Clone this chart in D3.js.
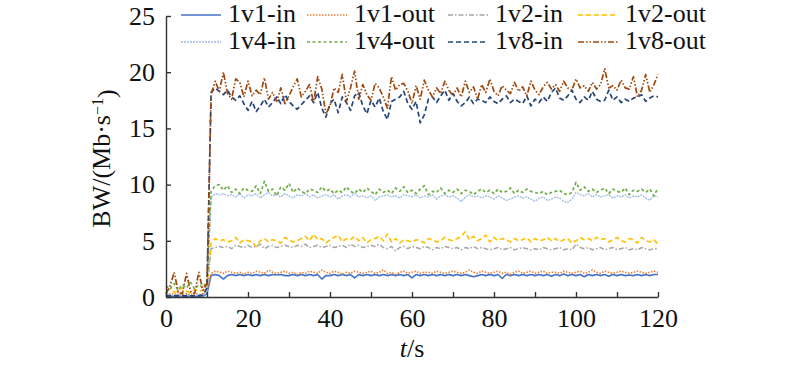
<!DOCTYPE html>
<html>
<head>
<meta charset="utf-8">
<script src="https://cdn.jsdelivr.net/npm/d3@7"></script>
<style>
  body { margin: 0; background: #fff; }
</style>
</head>
<body>
<div id="chart"></div>
<script>
// series names, in legend order
var seriesNames = ["1v1-in", "1v1-out", "1v2-in", "1v2-out", "1v4-in", "1v4-out", "1v8-in", "1v8-out"];

// time in seconds, 0..120
var seconds = d3.range(0, 121);

var bw1v1In = [
  0.05,0.05,0.1,0.05,0.05,0.1,0.05,0.05,0.1,0.05,0.3,
  1.9,2.0,1.9,1.6,1.9,2.0,1.9,2.0,1.9,
  2.0,1.9,2.0,1.9,2.0,1.9,2.0,1.95,2.0,1.9,
  1.9,2.0,1.9,2.0,1.9,2.0,1.9,2.0,1.6,1.9,
  1.9,2.0,1.9,2.0,1.9,2.0,1.7,2.0,1.9,2.0,
  1.9,2.0,1.9,2.0,1.9,2.0,1.9,2.0,1.9,2.0,
  1.7,2.0,1.9,2.0,1.9,2.0,1.9,2.0,1.9,2.0,
  1.9,2.0,1.9,2.0,1.9,1.8,1.9,2.0,1.9,2.0,
  1.9,2.0,1.65,2.0,1.9,2.0,1.9,2.0,1.9,2.0,
  1.9,2.0,1.9,2.0,1.85,2.0,1.9,2.05,1.9,2.0,
  1.9,2.0,1.8,2.0,1.9,2.0,1.9,2.0,1.85,2.0,
  1.9,2.0,1.9,1.95,1.9,2.0,1.9,2.0,1.9,2.0,
  2.0
];
var bw1v1Out = [
  0.2,0.3,0.2,0.4,0.2,0.3,0.2,0.4,0.2,0.3,0.6,
  2.1,2.3,2.2,2.1,2.3,2.2,2.1,2.2,2.0,
  2.2,2.1,2.3,2.2,2.1,2.4,2.2,2.1,2.2,2.3,
  2.1,2.2,2.0,2.2,2.1,2.3,2.2,2.1,2.4,2.2,
  2.1,2.3,2.2,2.0,2.2,2.1,2.3,2.2,2.1,2.2,
  2.3,2.1,2.2,2.4,2.1,2.2,2.0,2.2,2.3,2.1,
  2.2,2.3,2.1,2.2,2.2,2.1,2.3,2.2,2.1,2.2,
  2.3,2.2,2.1,2.2,2.4,2.2,2.1,2.3,2.2,2.1,
  2.2,2.3,2.1,2.2,2.0,2.2,2.3,2.1,2.2,2.3,
  2.1,2.2,2.3,2.1,2.2,2.2,2.1,2.3,2.2,2.1,
  2.2,2.3,2.1,2.2,2.4,2.2,2.1,2.3,2.2,2.1,
  2.2,2.3,2.2,2.1,2.2,2.3,2.2,2.1,2.2,2.3,
  2.2
];
var bw1v2In = [
  0.1,0.2,0.1,0.2,0.1,0.2,0.1,0.2,0.1,0.2,0.5,
  4.3,4.4,4.5,4.4,4.5,4.3,4.6,4.5,4.4,
  4.6,4.4,4.5,4.7,4.3,4.5,4.6,4.4,4.5,4.6,
  4.5,4.4,4.6,4.5,4.7,4.4,4.5,4.6,4.4,4.5,
  4.6,4.4,4.5,4.6,4.4,4.7,4.5,4.6,4.4,4.5,
  4.6,4.5,4.7,4.4,4.3,4.5,4.1,4.4,4.5,4.3,
  4.5,4.4,4.3,4.5,4.4,4.2,4.4,4.3,4.5,4.4,
  4.3,4.4,4.2,4.4,4.3,4.5,4.3,4.4,4.3,4.2,
  4.3,4.4,4.2,4.3,4.4,4.2,4.3,4.4,4.3,4.2,
  4.3,4.2,4.4,4.3,4.2,4.3,4.4,4.2,4.3,4.2,
  4.7,4.4,4.3,4.4,4.2,4.3,4.4,4.2,4.3,4.4,
  4.2,4.3,4.4,4.2,4.3,4.2,4.4,4.3,4.2,4.3,
  4.3
];
var bw1v2Out = [
  0.5,0.7,0.4,0.6,0.8,0.5,0.4,0.7,0.5,0.6,1.0,
  4.8,5.2,5.0,5.1,4.9,5.0,5.3,4.8,5.1,
  5.0,4.9,4.5,5.0,5.2,4.9,5.1,5.0,4.8,5.3,
  5.1,4.9,5.0,5.2,5.4,5.0,5.6,5.1,5.2,4.8,
  5.1,5.3,5.5,4.9,5.2,5.1,5.4,5.0,5.3,4.8,
  5.1,5.2,5.4,5.0,5.6,4.9,5.2,4.8,5.1,5.0,
  4.9,5.1,5.0,4.8,5.2,5.1,4.9,5.0,5.3,5.1,
  5.0,5.2,5.4,5.8,5.1,5.4,5.0,5.2,5.5,4.9,
  5.3,5.0,5.2,5.1,4.9,5.2,5.0,5.1,5.3,4.9,
  5.2,5.0,5.1,5.3,5.0,5.2,4.9,5.1,5.2,4.8,
  5.0,5.3,5.1,5.2,5.0,5.3,5.1,5.2,4.9,5.1,
  5.3,5.0,4.9,5.2,5.1,4.8,5.3,5.0,4.9,5.1,
  4.7
];
var bw1v4In = [
  0.1,0.1,0.2,0.1,0.1,0.2,0.1,0.1,0.2,0.1,0.6,
  8.9,9.2,9.1,9.2,9.0,9.1,8.9,9.2,8.8,
  9.1,9.0,9.2,8.8,9.1,9.3,9.0,9.1,8.9,9.2,
  9.0,8.8,9.1,9.0,9.2,8.9,9.1,8.8,9.0,9.1,
  8.9,9.1,8.7,9.0,9.1,8.9,9.2,8.9,9.0,8.8,
  9.0,8.6,8.9,9.0,9.1,8.9,9.0,8.8,9.1,9.0,
  8.9,9.1,8.8,9.0,8.9,9.1,8.7,9.0,9.1,8.9,
  9.0,8.8,8.5,8.9,9.1,8.9,9.0,8.8,9.0,8.9,
  8.7,9.0,8.8,8.6,8.7,8.9,9.0,8.8,8.9,8.7,
  8.5,8.8,8.9,8.6,8.7,8.9,8.8,8.5,8.4,8.7,
  9.3,9.1,9.0,9.2,8.9,9.1,8.9,9.0,9.1,8.8,
  9.0,8.9,9.1,8.8,9.0,8.9,9.1,8.8,8.6,9.0,
  8.9
];
var bw1v4Out = [
  1.0,0.7,1.2,0.6,1.1,0.8,1.3,0.7,1.1,0.8,1.5,
  9.4,9.9,10.0,9.5,9.9,9.3,9.6,9.2,9.7,
  9.5,9.4,9.9,9.2,10.3,9.4,9.6,9.0,9.8,9.5,
  10.1,9.3,9.7,9.4,9.2,9.6,9.5,9.3,9.8,9.4,
  9.6,9.2,9.5,9.3,9.8,9.4,9.2,9.6,9.3,9.7,
  9.4,9.1,9.6,9.3,9.5,9.2,9.7,9.4,9.8,9.3,
  9.5,9.2,9.6,9.9,9.1,9.4,9.3,9.7,9.2,9.5,
  9.3,9.6,9.2,9.5,9.4,9.1,9.4,9.6,9.3,9.5,
  9.2,9.6,9.3,9.4,9.7,9.2,9.5,9.3,9.6,9.4,
  9.3,9.2,9.4,9.1,9.3,9.4,9.5,9.2,9.1,9.3,
  10.2,9.5,9.8,9.4,9.6,9.3,9.5,9.7,9.2,9.6,
  9.4,9.3,9.7,9.1,9.5,9.4,9.6,9.3,9.6,9.0,
  9.7
];
var bw1v8In = [
  0.1,0.1,0.1,0.1,0.1,0.1,0.1,0.1,0.1,0.2,0.8,
  18.2,18.6,18.3,18.0,18.4,17.8,17.5,17.9,17.2,
  16.6,17.4,16.5,17.0,17.6,16.9,17.3,17.8,17.2,18.0,
  17.4,17.0,16.7,17.1,17.5,17.9,17.3,18.2,16.8,16.0,
  17.2,17.6,16.4,17.8,17.3,16.6,17.9,18.2,17.0,16.3,
  17.5,16.9,17.7,16.5,15.8,17.4,17.6,17.8,18.3,17.2,
  16.7,17.4,15.5,16.2,17.6,17.8,17.3,17.9,18.4,17.5,
  18.1,17.4,17.0,17.3,17.8,17.2,17.6,17.5,17.3,17.8,
  17.4,17.2,17.6,17.9,17.3,17.6,17.4,17.2,17.9,17.0,
  17.6,17.3,17.8,17.4,18.2,18.6,17.7,17.5,17.9,18.4,
  17.6,17.3,17.8,17.5,18.3,17.6,17.4,17.5,18.4,17.5,
  17.8,17.3,17.6,17.4,17.7,17.8,18.0,17.4,17.7,17.9,
  17.8
];
var bw1v8Out = [
  0.3,1.0,2.2,0.4,0.3,2.1,0.5,0.3,2.2,0.6,1.2,
  18.0,19.2,18.3,20.0,18.1,17.6,19.4,19.1,17.8,
  19.2,17.9,18.4,18.0,19.5,17.6,18.2,17.4,18.6,17.2,
  17.9,18.7,19.4,17.8,18.3,18.9,17.3,19.6,18.5,16.3,
  17.0,18.6,18.2,19.8,17.4,18.6,20.1,17.6,18.9,18.0,
  17.5,19.0,18.6,17.8,16.8,19.6,18.4,18.9,19.0,18.3,
  17.2,18.8,17.6,19.3,18.4,17.8,18.6,18.1,19.2,18.4,
  17.9,18.6,17.8,19.2,18.2,18.7,17.6,18.9,18.2,19.4,
  18.3,17.9,18.8,18.4,18.1,19.1,18.3,18.7,17.9,19.2,
  18.4,18.0,18.7,19.1,18.5,18.9,18.3,19.2,18.6,18.4,
  19.4,18.6,18.8,18.3,19.1,18.5,18.9,20.3,18.6,18.8,
  18.4,19.3,18.6,18.5,19.6,17.8,18.4,19.8,18.2,18.9,
  19.8
];

var seriesValues = [bw1v1In, bw1v1Out, bw1v2In, bw1v2Out, bw1v4In, bw1v4Out, bw1v8In, bw1v8Out];

// axis ticks
var yTicks = [0, 5, 10, 15, 20, 25];
var xTickLabels = [0, 20, 40, 60, 80, 100, 120];
var xTicks = d3.range(0, 121, 10);

// line styles, same order as seriesNames
var styles = [
  { color: "#4472c4", width: 1.6, dash: null },
  { color: "#ed7d31", width: 1.6, dash: "1.5,1.5" },
  { color: "#a5a5a5", width: 1.5, dash: "5,2,1.5,2" },
  { color: "#ffc000", width: 1.6, dash: "5,3" },
  { color: "#9dbbe3", width: 1.3, dash: "2,1" },
  { color: "#70ad47", width: 1.7, dash: "3,2.5" },
  { color: "#264478", width: 1.7, dash: "5,3" },
  { color: "#9e480e", width: 1.7, dash: "6,2,1.5,2,1.5,2" }
];

var FONT = "Liberation Serif";
var FSIZE = 26;

var width = 800, height = 371;
var margin = { left: 166, right: 142, top: 16, bottom: 74 };

var svg = d3.select("#chart").append("svg")
    .attr("width", width)
    .attr("height", height);

var x = d3.scaleLinear().domain([0, 120]).range([margin.left, width - margin.right]);
var y = d3.scaleLinear().domain([0, 25]).range([height - margin.bottom, margin.top]);

// lines
var line = d3.line()
    .x(function (d, i) { return x(seconds[i]); })
    .y(function (d) { return y(d); });

seriesValues.forEach(function (vals, i) {
    svg.append("path")
        .attr("d", line(vals))
        .attr("fill", "none")
        .attr("stroke", styles[i].color)
        .attr("stroke-width", styles[i].width)
        .attr("stroke-dasharray", styles[i].dash)
        .attr("stroke-linejoin", "round");
});

// y axis, ticks pointing into the plot
var yAxis = svg.append("g")
    .attr("transform", "translate(" + margin.left + ",0)")
    .call(d3.axisLeft(y).tickValues(yTicks).tickSizeInner(-5).tickSizeOuter(0).tickPadding(11));

// x axis, ticks pointing up
var xAxis = svg.append("g")
    .attr("transform", "translate(0," + (height - margin.bottom) + ")")
    .call(d3.axisBottom(x).tickValues(xTicks).tickSizeInner(-5).tickSizeOuter(0).tickPadding(10)
        .tickFormat(function (d) { return xTickLabels.indexOf(d) >= 0 ? d : ""; }));

[xAxis, yAxis].forEach(function (g) {
    g.attr("font-family", null).attr("font-size", null);
    g.select(".domain").attr("stroke", "#333").attr("stroke-width", 1.4);
    g.selectAll(".tick line").attr("stroke", "#333").attr("stroke-width", 1.4);
    g.selectAll(".tick text")
        .attr("font-family", FONT)
        .attr("font-size", FSIZE)
        .attr("fill", "#111");
});
xAxis.selectAll(".tick text").attr("dy", "0.75em");

// axis titles
var xTitle = svg.append("text")
    .attr("x", x(60))
    .attr("y", 357)
    .attr("text-anchor", "middle")
    .attr("font-family", FONT)
    .attr("font-size", FSIZE)
    .attr("fill", "#111");
xTitle.append("tspan").attr("font-style", "italic").text("t");
xTitle.append("tspan").text("/s");

var yTitle = svg.append("text")
    .attr("transform", "translate(110," + ((margin.top + height - margin.bottom) / 2 + 2) + ") rotate(-90)")
    .attr("text-anchor", "middle")
    .attr("font-family", FONT)
    .attr("font-size", FSIZE)
    .attr("fill", "#111");
yTitle.append("tspan").text("BW/(Mb·s");
yTitle.append("tspan").attr("dy", "-0.45em").attr("font-size", 16).text("−1");
yTitle.append("tspan").attr("dy", "0.45em").text(")");

// legend, two rows of four
var legendCols = [181, 307, 448, 578];
var legendRows = [22, 49];
seriesNames.forEach(function (name, i) {
    var lx = legendCols[i % 4];
    var ly = legendRows[Math.floor(i / 4)];
    svg.append("line")
        .attr("x1", lx).attr("x2", lx + 40)
        .attr("y1", ly - 7).attr("y2", ly - 7)
        .attr("stroke", styles[i].color)
        .attr("stroke-width", styles[i].width)
        .attr("stroke-dasharray", styles[i].dash);
    svg.append("text")
        .attr("x", lx + 47)
        .attr("y", ly)
        .attr("font-family", FONT)
        .attr("font-size", FSIZE)
        .attr("fill", "#111")
        .text(name);
});
</script>
</body>
</html>
